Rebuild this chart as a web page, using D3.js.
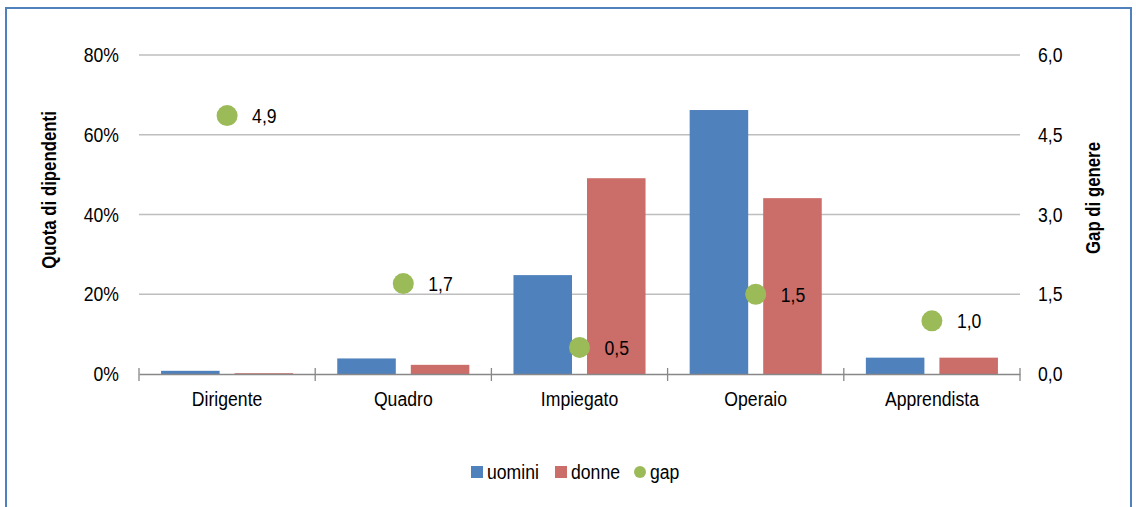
<!DOCTYPE html>
<html>
<head>
<meta charset="utf-8">
<script src="https://cdn.jsdelivr.net/npm/d3@7"></script>
<style>
  body { margin: 0; background: #fff; }
  svg text { font-family: "Liberation Sans", Arial, sans-serif; fill: #000; }
  /* fake Arial Narrow: squeeze the regular face */
  .narrow { transform-box: fill-box; transform: scaleX(0.84); }
  .narrow-title { transform-box: fill-box; transform: scaleX(0.8); transform-origin: center; }
</style>
</head>
<body>
<div id="chart"></div>
<script>
// chart data
const categories = ["Dirigente", "Quadro", "Impiegato", "Operaio", "Apprendista"];
const uomini = [0.8, 3.9, 24.8, 66.2, 4.1];
const donne = [0.2, 2.3, 49.1, 44.1, 4.1];
const gap = [4.86, 1.7, 0.5, 1.5, 1.0];
const leftTicks = [0, 20, 40, 60, 80];
const rightTicks = [0, 1.5, 3.0, 4.5, 6.0];
const seriesNames = ["uomini", "donne", "gap"];

const W = 1136, H = 507;
const margin = { top: 55, right: 116, bottom: 133, left: 139 };
const width = W - margin.left - margin.right;
const height = H - margin.top - margin.bottom;

const colors = { uomini: "#4F81BD", donne: "#CB6D69", gap: "#9BBB59" };

const itLocale = d3.formatLocale({ decimal: ",", thousands: ".", grouping: [3], currency: ["€", ""] });
const fmtRight = itLocale.format(".1f");

// squeeze text horizontally around the given origin
function narrow(sel, origin) {
  sel.classed("narrow", true).style("transform-origin", origin);
}

const svg = d3.select("#chart")
  .append("svg")
  .attr("width", W)
  .attr("height", H);

// outer frame
svg.append("rect")
  .attr("x", 6).attr("y", 8)
  .attr("width", 1125).attr("height", 520)
  .attr("fill", "none")
  .attr("stroke", "#4F81BD")
  .attr("stroke-width", 2);

const g = svg.append("g")
  .attr("transform", `translate(${margin.left}, ${margin.top})`);

// scales
const x = d3.scaleBand().domain(categories).range([0, width]);
const xInner = d3.scaleBand().domain(["uomini", "donne"])
  .range([0, x.bandwidth()])
  .paddingInner(0.204)
  .paddingOuter(0.3);
const yLeft = d3.scaleLinear().domain([0, 80]).range([height, 0]);
const yRight = d3.scaleLinear().domain([0, 6]).range([height, 0]);

// gridlines
g.append("g")
  .selectAll("line")
  .data(leftTicks.filter(d => d > 0))
  .join("line")
  .attr("x1", 0).attr("x2", width)
  .attr("y1", d => yLeft(d)).attr("y2", d => yLeft(d))
  .attr("stroke", "#BEBEBE")
  .attr("stroke-width", 1.3);

// left axis
const leftAxis = g.append("g")
  .call(d3.axisLeft(yLeft).tickValues(leftTicks).tickFormat(d => d + "%").tickSize(0).tickPadding(20));
leftAxis.select(".domain").remove();
leftAxis.selectAll("text").style("font-size", "21px").attr("fill", "#000").call(narrow, "right center");

// right axis
const rightAxis = g.append("g")
  .attr("transform", `translate(${width}, 0)`)
  .call(d3.axisRight(yRight).tickValues(rightTicks).tickFormat(fmtRight).tickSize(0).tickPadding(18));
rightAxis.select(".domain").remove();
rightAxis.selectAll("text").style("font-size", "21px").attr("fill", "#000").call(narrow, "left center");

// bars
const barData = [];
categories.forEach((c, i) => {
  barData.push({ cat: c, serie: "uomini", value: uomini[i] });
  barData.push({ cat: c, serie: "donne", value: donne[i] });
});

g.append("g")
  .selectAll("rect")
  .data(barData)
  .join("rect")
  .attr("x", d => x(d.cat) + xInner(d.serie))
  .attr("y", d => yLeft(d.value))
  .attr("width", xInner.bandwidth())
  .attr("height", d => height - yLeft(d.value))
  .attr("fill", d => colors[d.serie]);

// bottom axis
const xAxis = g.append("g")
  .attr("transform", `translate(0, ${height})`)
  .call(d3.axisBottom(x).tickSize(0).tickPadding(17));
xAxis.select(".domain").attr("stroke", "#888").attr("stroke-width", 1.5);
xAxis.selectAll("text").style("font-size", "21px").attr("fill", "#000").call(narrow, "center");

// tick marks at category boundaries
xAxis.append("g")
  .selectAll("line")
  .data(categories.map(c => x(c)).concat([width]))
  .join("line")
  .attr("x1", d => d).attr("x2", d => d)
  .attr("y1", -6).attr("y2", 7)
  .attr("stroke", "#888")
  .attr("stroke-width", 1.3);

// gap points
const pts = g.append("g")
  .selectAll("g")
  .data(gap.map((v, i) => ({ cat: categories[i], value: v })))
  .join("g")
  .attr("transform", d => `translate(${x(d.cat) + x.bandwidth() / 2}, ${yRight(d.value)})`);

pts.append("circle")
  .attr("r", 10.5)
  .attr("fill", colors.gap);

pts.append("text")
  .attr("x", 25)
  .attr("dy", "0.35em")
  .style("font-size", "21px")
  .text(d => fmtRight(d.value))
  .call(narrow, "left center");

// axis titles
svg.append("g")
  .attr("transform", "translate(49, 190) rotate(-90)")
  .append("text")
  .attr("class", "narrow-title")
  .attr("dy", "0.35em")
  .style("text-anchor", "middle")
  .style("font-size", "21px")
  .style("font-weight", "bold")
  .text("Quota di dipendenti");

svg.append("g")
  .attr("transform", "translate(1093, 198) rotate(-90)")
  .append("text")
  .attr("class", "narrow-title")
  .attr("dy", "0.35em")
  .style("text-anchor", "middle")
  .style("font-size", "21px")
  .style("font-weight", "bold")
  .text("Gap di genere");

// legend
const legend = svg.append("g")
  .attr("transform", "translate(471, 472)");

const legendX = [0, 84, 163];
seriesNames.forEach((s, i) => {
  const item = legend.append("g").attr("transform", `translate(${legendX[i]}, 0)`);
  if (s === "gap") {
    item.append("circle").attr("cx", 6).attr("r", 6).attr("fill", colors[s]);
  } else {
    item.append("rect").attr("x", 0).attr("y", -6).attr("width", 12).attr("height", 12).attr("fill", colors[s]);
  }
  item.append("text")
    .attr("x", 16)
    .attr("dy", "0.35em")
    .style("font-size", "21px")
    .text(s)
    .call(narrow, "left center");
});
</script>
</body>
</html>
